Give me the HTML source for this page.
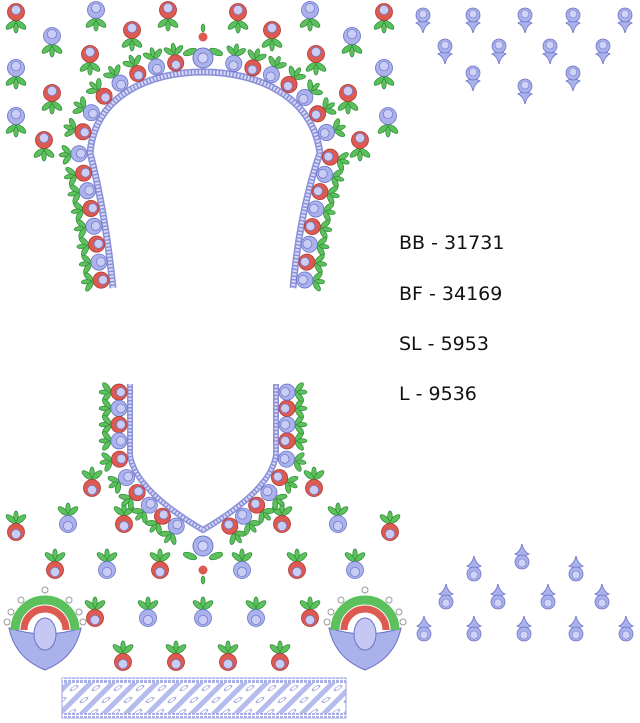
<!DOCTYPE html>
<html><head><meta charset="utf-8"><style>
html,body{margin:0;padding:0;background:#fff;}
svg{display:block}
.t{font-family:"DejaVu Sans","Liberation Sans",sans-serif;font-size:19px;fill:#111;}
</style></head><body>
<svg id="s" width="640" height="723" viewBox="0 0 640 723" xmlns="http://www.w3.org/2000/svg">
<defs>
<pattern id="band" width="4" height="4" patternUnits="userSpaceOnUse"><rect width="4" height="4" fill="#fff"/><rect width="3" height="3" fill="#aab0e6"/></pattern>
<pattern id="diag" width="22" height="40" patternUnits="userSpaceOnUse" patternTransform="skewX(-45)">
<rect width="22" height="40" fill="#fff"/><rect x="0" width="7" height="40" fill="#b5bbec"/><circle cx="14" cy="8" r="2.5" fill="none" stroke="#9aa0de"/><circle cx="14" cy="20" r="2.5" fill="none" stroke="#9aa0de"/><circle cx="14" cy="32" r="2.5" fill="none" stroke="#9aa0de"/></pattern>
</defs>
<g id="g"></g>
<text class="t" x="399" y="249">BB - 31731</text>
<text class="t" x="399" y="300">BF - 34169</text>
<text class="t" x="399" y="350">SL - 5953</text>
<text class="t" x="399" y="400">L - 9536</text>
</svg>
<script>
const NS="http://www.w3.org/2000/svg";const G=document.getElementById('g');
let out='';
const B='#aab2ec',BS='#6c72c8',R='#dd5a52',RS='#b03a36',GR='#5cc05c',GS='#2f8a38';
function leaf(x,y,a,l){return `<ellipse cx="${x}" cy="${y}" rx="${l}" ry="${l*0.45}" transform="rotate(${a} ${x} ${y})" fill="${GR}" stroke="${GS}" stroke-width="0.7"/>`;}
function bud(x,y,c,ang,s){s=s||1;const r=8.5*s;const rad=ang*Math.PI/180;
 const lx=x+Math.cos(rad)*13*s, ly=y+Math.sin(rad)*13*s;
 let h='';
 h+=leaf(lx+Math.cos(rad+1.57)*5*s,ly+Math.sin(rad+1.57)*5*s,ang+50,6*s);
 h+=leaf(lx-Math.cos(rad+1.57)*5*s,ly-Math.sin(rad+1.57)*5*s,ang-50,6*s);
 h+=leaf(lx+Math.cos(rad)*3*s,ly+Math.sin(rad)*3*s,ang,5*s);
 const f=c=='r'?R:B, st=c=='r'?RS:BS;
 h+=`<circle cx="${x}" cy="${y}" r="${r}" fill="${f}" stroke="${st}" stroke-width="0.8"/>`;
 h+=`<circle cx="${x-Math.cos(rad)*2*s}" cy="${y-Math.sin(rad)*2*s}" r="${r*0.55}" fill="#c9cdf4" stroke="${BS}" stroke-width="0.7"/>`;
 return h;}
function tulip(x,y,inv){let h='';const d=inv?-1:1;
 h+=`<path d="M${x-7},${y+8*d} Q${x},${y+4*d} ${x+7},${y+8*d} Q${x+2},${y+10*d} ${x},${y+18*d} Q${x-2},${y+10*d} ${x-7},${y+8*d}Z" fill="${B}" stroke="${BS}" stroke-width="0.8"/>`;
 h+=`<circle cx="${x}" cy="${y}" r="7" fill="${B}" stroke="${BS}" stroke-width="0.8"/><circle cx="${x}" cy="${y-d}" r="4" fill="#d0d3f6" stroke="${BS}" stroke-width="0.6"/>`;
 return h;}
[[16,12,'r'],[96,10,'b'],[168,10,'r'],[238,12,'r'],[310,10,'b'],[384,12,'r'],[52,36,'b'],[132,30,'r'],[272,30,'r'],[352,36,'b'],[16,68,'b'],[90,54,'r'],[316,54,'r'],[384,68,'b'],[52,93,'r'],[348,93,'r'],[16,116,'b'],[44,140,'r'],[388,116,'b'],[360,140,'r']].forEach(b=>out+=bud(b[0],b[1],b[2],90,1));
[[423,15],[473,15],[525,15],[573,15],[625,15],[445,46],[499,46],[550,46],[603,46],[473,73],[573,73],[525,86]].forEach(p=>out+=tulip(p[0],p[1],false));
[[522,562],[474,574],[576,574],[446,602],[498,602],[548,602],[602,602],[424,634],[474,634],[524,634],[576,634],[626,634]].forEach(p=>out+=tulip(p[0],p[1],true));
[[16,532,'r'],[68,524,'b'],[124,524,'r'],[282,524,'r'],[338,524,'b'],[390,532,'r'],[92,488,'r'],[314,488,'r'],[55,570,'r'],[107,570,'b'],[160,570,'r'],[242,570,'b'],[297,570,'r'],[355,570,'b'],[95,618,'r'],[148,618,'b'],[203,618,'b'],[256,618,'b'],[310,618,'r'],[123,662,'r'],[176,662,'r'],[228,662,'r'],[280,662,'r']].forEach(b=>out+=bud(b[0],b[1],b[2],-90,1));
const tp="M113,288 Q105,210 90,153 C95,95 150,72 203,72 C256,72 312,95 320,153 Q300,210 293,288";
const vp="M130,384 L130,455 Q135,490 203,530 Q271,490 276,455 L276,384";
out+=`<path d="${tp}" fill="none" stroke="#8a90d8" stroke-width="7"/><path d="${tp}" fill="none" stroke="#d6d9f7" stroke-width="4" stroke-dasharray="2 1.5"/>`;
out+=`<path d="${vp}" fill="none" stroke="#8a90d8" stroke-width="6"/><path d="${vp}" fill="none" stroke="#d6d9f7" stroke-width="3" stroke-dasharray="2 1.5"/>`;
G.innerHTML=out;
function along(d,n,cx,cy,skipMid,off){const p=document.createElementNS(NS,'path');p.setAttribute('d',d);G.appendChild(p);
 const L=p.getTotalLength();let h='';
 for(let i=0;i<n;i++){const t=(i+0.5)/n*L;if(skipMid&&Math.abs(t-L/2)<12)continue;
  const a=p.getPointAtLength(Math.max(0,t-1)),b=p.getPointAtLength(Math.min(L,t+1)),m=p.getPointAtLength(t);
  let nx=-(b.y-a.y),ny=b.x-a.x;const l=Math.hypot(nx,ny);nx/=l;ny/=l;
  if(cx!==null){if((m.x-cx)*nx+(m.y-cy)*ny<0){nx=-nx;ny=-ny;}}
  const x=m.x+nx*off,y=m.y+ny*off;const ang=Math.atan2(ny,nx)*180/Math.PI;
  h+=bud(x,y,i%2?'b':'r',ang,0.95);}
 p.remove();return h;}
out+=along(tp,32,203,260,true,11);
out+=along(vp,22,203,300,true,11);
function rose(x,y,r){return `<circle cx="${x}" cy="${y}" r="${r}" fill="${B}" stroke="${BS}"/><circle cx="${x}" cy="${y}" r="${r*0.5}" fill="#d0d3f6" stroke="${BS}" stroke-width="0.7"/>`;}
out+=leaf(190,52,-20,7)+leaf(216,52,20,7)+rose(203,58,10)+`<circle cx="203" cy="37" r="4.5" fill="${R}"/>`+leaf(203,28,90,4);
out+=leaf(190,556,20,7)+leaf(216,556,-20,7)+rose(203,546,10)+`<circle cx="203" cy="570" r="4.5" fill="${R}"/>`+leaf(203,580,90,4);
function paisley(x,y){let h='';
 h+=`<path d="M${x-36},${y} Q${x-30},${y+30} ${x},${y+42} Q${x+30},${y+30} ${x+36},${y} Q${x},${y+12} ${x-36},${y}Z" fill="${B}" stroke="${BS}"/>`;
 h+=`<path d="M${x-30},${y+2} A30,30 0 0 1 ${x+30},${y+2}" fill="none" stroke="${GR}" stroke-width="9"/>`;
 h+=`<path d="M${x-21},${y+2} A21,21 0 0 1 ${x+21},${y+2}" fill="none" stroke="${R}" stroke-width="7"/>`;
 h+=`<ellipse cx="${x}" cy="${y+6}" rx="11" ry="16" fill="#c4c8f2" stroke="${BS}"/>`;
 [[-38,-6],[-34,-16],[-24,-28],[0,-38],[24,-28],[34,-16],[38,-6]].forEach(c=>h+=`<circle cx="${x+c[0]}" cy="${y+c[1]}" r="3" fill="#fff" stroke="#999"/>`);
 return h;}
out+=paisley(45,628)+paisley(365,628);
out+=`<rect x="62" y="678" width="284" height="40" fill="url(#diag)" stroke="#9aa0de"/><rect x="62" y="678" width="284" height="5" fill="url(#band)"/><rect x="62" y="713" width="284" height="5" fill="url(#band)"/>`;
G.innerHTML=out;
</script>
</body></html>
